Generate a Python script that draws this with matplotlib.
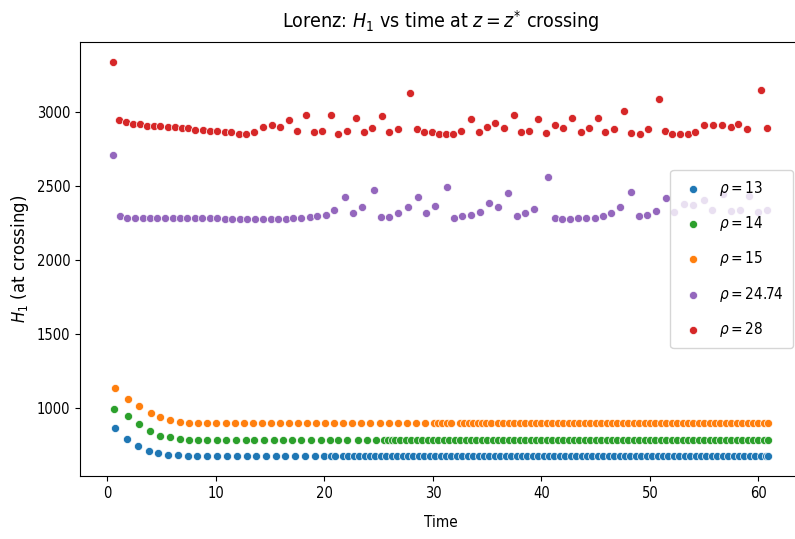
import matplotlib
matplotlib.use("Agg")
import matplotlib.pyplot as plt

# ---------------- data (time, H1) ----------------
labels = [r"$\rho = 13$", r"$\rho = 14$", r"$\rho = 15$", r"$\rho = 24.74$", r"$\rho = 28$"]
colors = ["#1f77b4", "#2ca02c", "#ff7f0e", "#9467bd", "#d62728"]

rho13 = [(0.67, 869), (1.84, 792), (2.86, 742), (3.82, 713), (4.69, 700), (5.60, 686), (6.50, 684),
         (7.42, 678), (8.28, 676), (9.21, 675), (10.08, 675), (11.0, 675), (11.92, 675), (12.83, 675),
         (13.70, 675), (14.63, 675), (15.52, 675), (16.40, 675), (17.31, 675), (18.23, 675), (19.15, 675),
         (19.96, 675), (20.57, 675), (20.98, 675), (21.69, 675),
         (22.2, 675), (22.7, 675), (23.2, 675), (23.7, 675), (24.2, 675), (24.7, 675), (25.2, 675),
         (25.7, 675), (26.2, 675), (26.7, 675), (27.2, 675), (27.7, 675), (28.2, 675), (28.7, 675),
         (29.2, 675), (29.7, 675), (30.2, 675), (30.7, 675), (31.2, 675), (31.7, 675), (32.2, 675),
         (32.7, 675), (33.2, 675), (33.7, 675), (34.2, 675), (34.7, 675), (35.2, 675), (35.7, 675),
         (36.2, 675), (36.7, 675), (37.2, 675), (37.7, 675), (38.2, 675), (38.7, 675), (39.2, 675),
         (39.7, 675), (40.2, 675), (40.7, 675), (41.2, 675), (41.7, 675), (42.2, 675), (42.7, 675),
         (43.2, 675), (43.7, 675), (44.2, 675), (44.7, 675), (45.2, 675), (45.7, 675), (46.2, 675),
         (46.7, 675), (47.2, 675), (47.7, 675), (48.2, 675), (48.7, 675), (49.2, 675), (49.7, 675),
         (50.2, 675), (50.7, 675), (51.2, 675), (51.7, 675), (52.2, 675), (52.7, 675), (53.2, 675),
         (53.7, 675), (54.2, 675), (54.7, 675), (55.2, 675), (55.7, 675), (56.2, 675), (56.7, 675),
         (57.2, 675), (57.7, 675), (58.2, 675), (58.7, 675), (59.2, 675), (59.7, 675), (60.2, 675),
         (60.7, 675), (60.9, 675)]

rho14 = [(0.61, 995), (1.90, 944), (2.95, 892), (3.91, 844), (4.87, 812), (5.72, 803), (6.65, 790),
         (7.52, 784), (8.37, 783), (9.21, 783), (10.08, 783), (10.97, 783), (11.81, 783), (12.73, 783),
         (13.55, 783), (14.46, 783), (15.34, 783), (16.19, 783), (17.01, 783), (17.87, 783), (18.79, 783),
         (19.66, 783), (20.47, 783), (21.29, 783), (22.10, 783), (23.07, 783), (23.93, 783), (24.75, 783),
         (25.46, 783), (25.82, 783), (26.18, 783), (26.48, 783),
         (27.0, 783), (27.5, 783), (28.0, 783), (28.5, 783), (29.0, 783), (29.5, 783), (30.0, 783),
         (30.5, 783), (31.0, 783), (31.5, 783), (32.0, 783), (32.5, 783), (33.0, 783), (33.5, 783),
         (34.0, 783), (34.5, 783), (35.0, 783), (35.5, 783), (36.0, 783), (36.5, 783), (37.0, 783),
         (37.5, 783), (38.0, 783), (38.5, 783), (39.0, 783), (39.5, 783), (40.0, 783), (40.5, 783),
         (41.0, 783), (41.5, 783), (42.0, 783), (42.5, 783), (43.0, 783), (43.5, 783), (44.0, 783),
         (44.5, 783), (45.0, 783), (45.5, 783), (46.0, 783), (46.5, 783), (47.0, 783), (47.5, 783),
         (48.0, 783), (48.5, 783), (49.0, 783), (49.5, 783), (50.0, 783), (50.5, 783), (51.0, 783),
         (51.5, 783), (52.0, 783), (52.5, 783), (53.0, 783), (53.5, 783), (54.0, 783), (54.5, 783),
         (55.0, 783), (55.5, 783), (56.0, 783), (56.5, 783), (57.0, 783), (57.5, 783), (58.0, 783),
         (58.5, 783), (59.0, 783), (59.5, 783), (60.0, 783), (60.5, 783), (60.9, 783)]

rho15 = [(0.67, 1133), (1.90, 1063), (2.95, 1018), (4.00, 968), (4.87, 939), (5.79, 919), (6.68, 907),
         (7.52, 900), (8.37, 898), (9.21, 897), (10.04, 897), (10.88, 897), (11.71, 897), (12.55, 897),
         (13.38, 897), (14.22, 897), (15.05, 897), (15.89, 897), (16.72, 897), (17.56, 897), (18.39, 897),
         (19.23, 897), (20.06, 897), (20.90, 897), (21.73, 897), (22.57, 897), (23.41, 897), (24.24, 897),
         (25.08, 897), (25.91, 897), (26.75, 897), (27.58, 897), (28.42, 897), (29.25, 897), (30.05, 897),
         (30.45, 897), (30.86, 897), (31.27, 897), (31.68, 897),
         (32.49, 897), (32.9, 897), (33.3, 897), (33.71, 897), (34.12, 897),
         (34.53, 897), (34.93, 897), (35.34, 897),
         (36.0, 897), (36.5, 897), (37.0, 897), (37.5, 897), (38.0, 897), (38.5, 897), (39.0, 897),
         (39.5, 897), (40.0, 897), (40.5, 897), (41.0, 897), (41.5, 897), (42.0, 897), (42.5, 897),
         (43.0, 897), (43.5, 897), (44.0, 897), (44.5, 897), (45.0, 897), (45.5, 897), (46.0, 897),
         (46.5, 897), (47.0, 897), (47.5, 897), (48.0, 897), (48.5, 897), (49.0, 897), (49.5, 897),
         (50.0, 897), (50.5, 897), (51.0, 897), (51.5, 897), (52.0, 897), (52.5, 897), (53.0, 897),
         (53.5, 897), (54.0, 897), (54.5, 897), (55.0, 897), (55.5, 897), (56.0, 897), (56.5, 897),
         (57.0, 897), (57.5, 897), (58.0, 897), (58.5, 897), (59.0, 897), (59.5, 897), (60.0, 897),
         (60.5, 897), (60.9, 897)]

rho2474 = [(0.49, 2708), (1.17, 2300), (1.82, 2288), (2.53, 2288), (3.24, 2288), (3.91, 2288),
           (4.59, 2288), (5.27, 2288), (6.04, 2288), (6.72, 2288), (7.36, 2288), (8.04, 2288),
           (8.75, 2288), (9.43, 2288), (10.10, 2288), (10.79, 2278), (11.52, 2278), (12.17, 2278),
           (12.84, 2278), (13.59, 2278), (14.29, 2278), (15.03, 2278), (15.74, 2278), (16.45, 2278),
           (17.13, 2288), (17.86, 2288), (18.64, 2292), (19.35, 2300), (20.17, 2308), (20.92, 2338),
           (21.85, 2424), (22.65, 2317), (23.48, 2356), (24.53, 2476), (25.22, 2295), (25.97, 2295),
           (26.82, 2322), (27.66, 2358), (28.60, 2424), (29.39, 2317), (30.22, 2365), (31.30, 2494),
           (31.94, 2288), (32.71, 2300), (33.46, 2308), (34.31, 2327), (35.18, 2385), (36.00, 2356),
           (36.96, 2456), (37.77, 2300), (38.50, 2320), (39.33, 2349), (40.58, 2561), (41.25, 2288),
           (41.89, 2277), (42.63, 2277), (43.35, 2288), (44.10, 2288), (44.89, 2288), (45.63, 2300),
           (46.39, 2320), (47.23, 2356), (48.28, 2462), (48.99, 2300), (49.72, 2308), (50.58, 2335),
           (51.51, 2417), (52.25, 2327), (53.11, 2381), (53.95, 2370), (54.95, 2405), (55.71, 2338),
           (56.73, 2449), (57.44, 2335), (58.26, 2342), (59.17, 2437), (59.99, 2327), (60.80, 2338)]

rho28 = [(0.49, 3341), (1.08, 2950), (1.75, 2932), (2.40, 2919), (2.98, 2919), (3.64, 2910), (4.28, 2910),
         (4.87, 2910), (5.54, 2900), (6.21, 2900), (6.86, 2892), (7.42, 2892), (8.11, 2883), (8.78, 2883),
         (9.45, 2874), (10.10, 2874), (10.79, 2864), (11.43, 2864), (12.11, 2855), (12.75, 2853),
         (13.50, 2867), (14.29, 2900), (15.12, 2911), (15.89, 2902), (16.75, 2945), (17.44, 2875),
         (18.32, 2980), (19.05, 2864), (19.78, 2874), (20.61, 2980), (21.29, 2853), (22.06, 2876),
         (22.89, 2961), (23.66, 2864), (24.42, 2894), (25.26, 2973), (25.97, 2864), (26.74, 2885),
         (27.85, 3127), (28.52, 2885), (29.20, 2864), (29.88, 2864), (30.52, 2853), (31.17, 2853),
         (31.82, 2853), (32.59, 2875), (33.46, 2952), (34.22, 2864), (35.00, 2902), (35.74, 2925),
         (36.56, 2894), (37.43, 2982), (38.10, 2864), (38.88, 2875), (39.72, 2952), (40.41, 2862),
         (41.25, 2914), (41.98, 2894), (42.83, 2962), (43.62, 2864), (44.41, 2894), (45.25, 2964),
         (45.90, 2864), (46.65, 2885), (47.59, 3011), (48.28, 2862), (49.04, 2853), (49.80, 2885),
         (50.82, 3090), (51.43, 2876), (52.04, 2853), (52.76, 2853), (53.47, 2853), (54.18, 2864),
         (55.00, 2911), (55.81, 2911), (56.63, 2911), (57.44, 2902), (58.16, 2923), (58.97, 2885),
         (60.19, 3150), (60.75, 2894)]

series = [rho13, rho14, rho15, rho2474, rho28]

# ---------------- figure ----------------
plt.rcParams["font.family"] = ["DejaVu Sans"]
plt.rcParams["font.stretch"] = "condensed"
fig = plt.figure(figsize=(7.95, 5.39), dpi=100)
W, H = 795, 539
left, right, top, bottom = 80, 801, 42, 476
ax = fig.add_axes([left / W, (H - bottom) / H, (right - left) / W, (bottom - top) / H])

for pts, lab, col in zip(series, labels, colors):
    t = [p[0] for p in pts]
    v = [p[1] for p in pts]
    ax.scatter(t, v, s=34, color=col, edgecolors="white", linewidths=0.5, label=lab)

ax.margins(0.05)
ax.tick_params(labelsize=10.5)
ax.set_xlabel("Time", fontsize=11, labelpad=10)
ax.set_ylabel(r"$H_1$ (at crossing)", fontsize=12, fontstretch="normal")
ax.set_title(r"Lorenz: $H_1$ vs time at $z = z^{*}$ crossing", fontsize=14, pad=10)
ax.legend(loc="center right", fontsize=11, labelspacing=1.05, handletextpad=0.8,
          handlelength=1.8, borderpad=0.6, borderaxespad=0.5)

fig.savefig("out.png", dpi=100)
